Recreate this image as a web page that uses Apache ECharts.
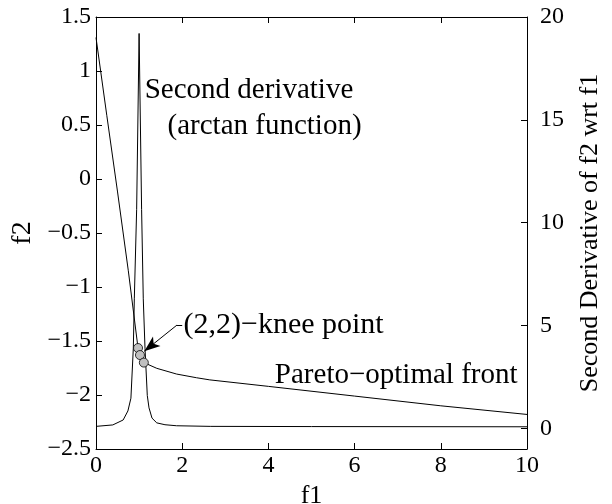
<!DOCTYPE html>
<html>
<head>
<meta charset="utf-8">
<script src="https://cdn.jsdelivr.net/npm/echarts@6/dist/echarts.min.js"></script>
<style>
  html, body { margin: 0; padding: 0; background: #fff; }
  #chart { width: 612px; height: 504px; }
</style>
</head>
<body>
<div id="chart"></div>
<script>
// Pareto-optimal front (f1, f2)
const paretoF1 = [0, 0.25, 0.5, 0.75, 0.975, 1.02, 1.11, 1.41, 1.87, 2.33, 2.64, 4, 6, 8, 10];
const paretoF2 = [1.31, 0.59, -0.12, -0.85, -1.565, -1.63, -1.70, -1.753, -1.806, -1.84, -1.86, -1.92, -2.01, -2.10, -2.18];

// Second derivative of f2 with respect to f1 (arctan smoothing)
const derivF1 = [0, 0.39, 0.63, 0.74, 0.81, 0.866, 0.889, 0.943, 1.0, 1.058, 1.097, 1.137, 1.19, 1.23, 1.3, 1.41, 1.6, 1.87, 2.65, 5, 10];
const derivVal = [0.1, 0.17, 0.41, 0.85, 1.47, 3.9, 6.3, 10.65, 19.2, 10.65, 6.3, 3.9, 1.6, 1.0, 0.5, 0.27, 0.18, 0.13, 0.1, 0.09, 0.08];

// Knee points marked on the front
const kneeF1 = [0.975, 1.02, 1.11];
const kneeF2 = [-1.565, -1.63, -1.70];

// Tick values
const xTicks = [0, 2, 4, 6, 8, 10];
const leftTicks = [-2.5, -2, -1.5, -1, -0.5, 0, 0.5, 1, 1.5];
const rightTicks = [0, 5, 10, 15, 20];

const FONT = 'Liberation Serif';
const minus = v => String(v).replace('-', '\u2212');

const chart = echarts.init(document.getElementById('chart'), null, { renderer: 'canvas' });

const axisCommon = {
  axisLine: { show: true, onZero: false, lineStyle: { color: '#000', width: 1 } },
  axisTick: { show: true, inside: true, length: 6, lineStyle: { color: '#000', width: 1 } },
  splitLine: { show: false }
};

const option = {
  animation: false,
  backgroundColor: '#fff',
  grid: { left: 96, right: 85, top: 17, bottom: 55, containLabel: false, outerBoundsMode: 'none' },
  xAxis: [
    Object.assign({}, axisCommon, {
      type: 'value', position: 'bottom', min: xTicks[0], max: xTicks[xTicks.length - 1], interval: 2,
      axisLabel: { color: '#000', fontFamily: FONT, fontSize: 24, margin: 5, formatter: minus },
      name: 'f1', nameLocation: 'middle', nameGap: 32,
      nameTextStyle: { color: '#000', fontFamily: FONT, fontSize: 26 }
    }),
    Object.assign({}, axisCommon, {
      type: 'value', position: 'top', min: xTicks[0], max: xTicks[xTicks.length - 1], interval: 2,
      axisLabel: { show: false }
    })
  ],
  yAxis: [
    Object.assign({}, axisCommon, {
      type: 'value', position: 'left', min: leftTicks[0], max: leftTicks[leftTicks.length - 1], interval: 0.5,
      axisLabel: { color: '#000', fontFamily: FONT, fontSize: 24, margin: 5, formatter: minus },
      name: 'f2', nameLocation: 'middle', nameGap: 46, nameRotate: 90,
      nameTextStyle: { color: '#000', fontFamily: FONT, fontSize: 28 }
    }),
    Object.assign({}, axisCommon, {
      type: 'value', position: 'right', min: -1, max: 20,
      axisLabel: { color: '#000', fontFamily: FONT, fontSize: 24, margin: 13, customValues: rightTicks },
      axisTick: { show: true, inside: true, length: 6, lineStyle: { color: '#000', width: 1 }, customValues: rightTicks },
      name: 'Second Derivative of f2 wrt f1', nameLocation: 'middle', nameGap: 50, nameRotate: 90,
      nameTextStyle: { color: '#000', fontFamily: FONT, fontSize: 26 }
    })
  ],
  series: [
    {
      type: 'line', name: 'front', xAxisIndex: 0, yAxisIndex: 0,
      data: paretoF1.map((x, i) => [x, paretoF2[i]]),
      showSymbol: false, symbol: 'none',
      lineStyle: { color: '#000', width: 1 }, z: 3
    },
    {
      type: 'line', name: 'derivative', xAxisIndex: 0, yAxisIndex: 1,
      data: derivF1.map((x, i) => [x, derivVal[i]]),
      showSymbol: false, symbol: 'none',
      lineStyle: { color: '#000', width: 1 }, z: 3
    },
    {
      type: 'scatter', name: 'knee', xAxisIndex: 0, yAxisIndex: 0,
      data: kneeF1.map((x, i) => [x, kneeF2[i]]),
      symbol: 'circle', symbolSize: 9,
      itemStyle: { color: '#c0c0c0', borderColor: '#000', borderWidth: 0.8, opacity: 1 },
      z: 5,
      markLine: {
        silent: true, animation: false,
        symbol: ['none', 'none'],
        lineStyle: { color: '#000', width: 1, type: 'solid' },
        label: { show: false },
        emphasis: { disabled: true },
        data: [
          [{ coord: [2.0, -1.352] }, { coord: [1.88, -1.352] }],
          [{ coord: [1.88, -1.352] }, { coord: [1.12, -1.595], symbol: 'arrow', symbolSize: [9, 16] }]
        ]
      }
    }
  ]
};

chart.setOption(option);

// Text annotations anchored in data space
const notes = [
  { text: 'Second derivative', at: [1.13, 0.82], align: 'left', size: 29 },
  { text: '(arctan function)', at: [1.66, 0.49], align: 'left', size: 29 },
  { text: '(2,2)\u2212knee point', at: [2.03, -1.352], align: 'left', size: 30 },
  { text: 'Pareto\u2212optimal front', at: [9.78, -1.82], align: 'right', size: 29 }
];

chart.setOption({
  graphic: notes.map(n => {
    const p = chart.convertToPixel({ gridIndex: 0 }, n.at);
    return {
      type: 'text', x: p[0], y: p[1], silent: true,
      style: {
        text: n.text, fill: '#000', font: n.size + 'px "' + FONT + '"',
        align: n.align, verticalAlign: 'middle'
      }
    };
  })
});
</script>
</body>
</html>
